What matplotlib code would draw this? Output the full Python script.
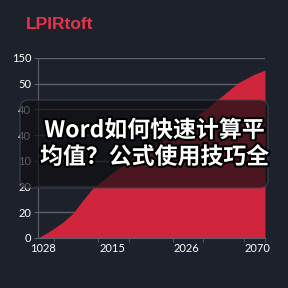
import matplotlib.pyplot as plt
import matplotlib.patheffects as pe
from matplotlib.patches import FancyBboxPatch

# données
x_vals = [0, 5.3, 11.1, 15.5, 19.9, 24.3, 33.0, 42.0, 57.1, 68.0, 79.6, 88.1, 95.0, 100]
y_vals = [0, 0.27, 0.62, 0.97, 1.48, 1.95, 2.55, 3.11, 3.89, 4.6, 5.41, 6.03, 6.35, 6.53]
y_tick_labels = ['0', '20', '20', '10', '40', '40', '50', '150']
x_tick_pos = [2, 32.7, 65.5, 96.5]
x_tick_labels = ['1028', '2015', '2026', '2070']
x_minor_pos = [7.1, 26.5, 40.3, 59.3, 72.6, 90.7, 100]
title = 'LPIRtoft'
overlay = 'Word如何快速计算平\n均值？公式使用技巧全'

bg = '#1c212b'
red = '#cf263e'
grid_c = '#5b6069'

fig = plt.figure(figsize=(2.88, 2.88), dpi=100)
fig.patch.set_facecolor(bg)

ax = fig.add_axes([0.132, 0.174, 0.788, 0.625])
ax.set_facecolor(bg)
ax.fill_between(x_vals, y_vals, 0, color=red, lw=0, zorder=2)
ax.set_xlim(0, 100)
ax.set_ylim(0, 7)

ax.set_yticks(range(8))
ax.set_yticklabels(y_tick_labels)
ax.set_xticks(x_tick_pos)
ax.set_xticklabels(x_tick_labels)
ax.set_xticks(x_minor_pos, minor=True)
ax.tick_params(axis='x', which='major', length=0, pad=4, colors='white', labelsize=8)
ax.tick_params(axis='x', which='minor', length=3, color=grid_c)
ax.tick_params(axis='y', length=3, color=grid_c, colors='white', labelsize=8, pad=2)
for lab in ax.get_xticklabels() + ax.get_yticklabels():
    lab.set_family('Lato')

ax.grid(axis='y', color=grid_c, lw=1, zorder=1)
for s in ['top', 'right']:
    ax.spines[s].set_visible(False)
ax.spines['left'].set_color(grid_c)
ax.spines['bottom'].set_color(grid_c)

fig.text(0.09, 0.915, title, color='#e8334a', fontsize=12.5, fontweight='bold',
         family='Liberation Sans', va='center', ha='left')

# boîte semi-transparente avec le titre chinois
box = FancyBboxPatch((20 / 288, 1 - 188 / 288), 248 / 288, 88 / 288,
                     boxstyle='round,pad=0,rounding_size=0.03',
                     transform=fig.transFigure, facecolor='#0e0f12', alpha=0.68,
                     edgecolor='#44474e', lw=1, zorder=10)
fig.patches.append(box)
fig.text(0.536, 1 - 144 / 288, overlay, color='white', fontsize=16.5, fontweight='bold',
         family=['Noto Sans CJK SC', 'DejaVu Sans'], ha='center', va='center',
         linespacing=1.2, zorder=11,
         path_effects=[pe.withStroke(linewidth=3, foreground='black')])

plt.savefig('out.png', dpi=100, facecolor=bg)
